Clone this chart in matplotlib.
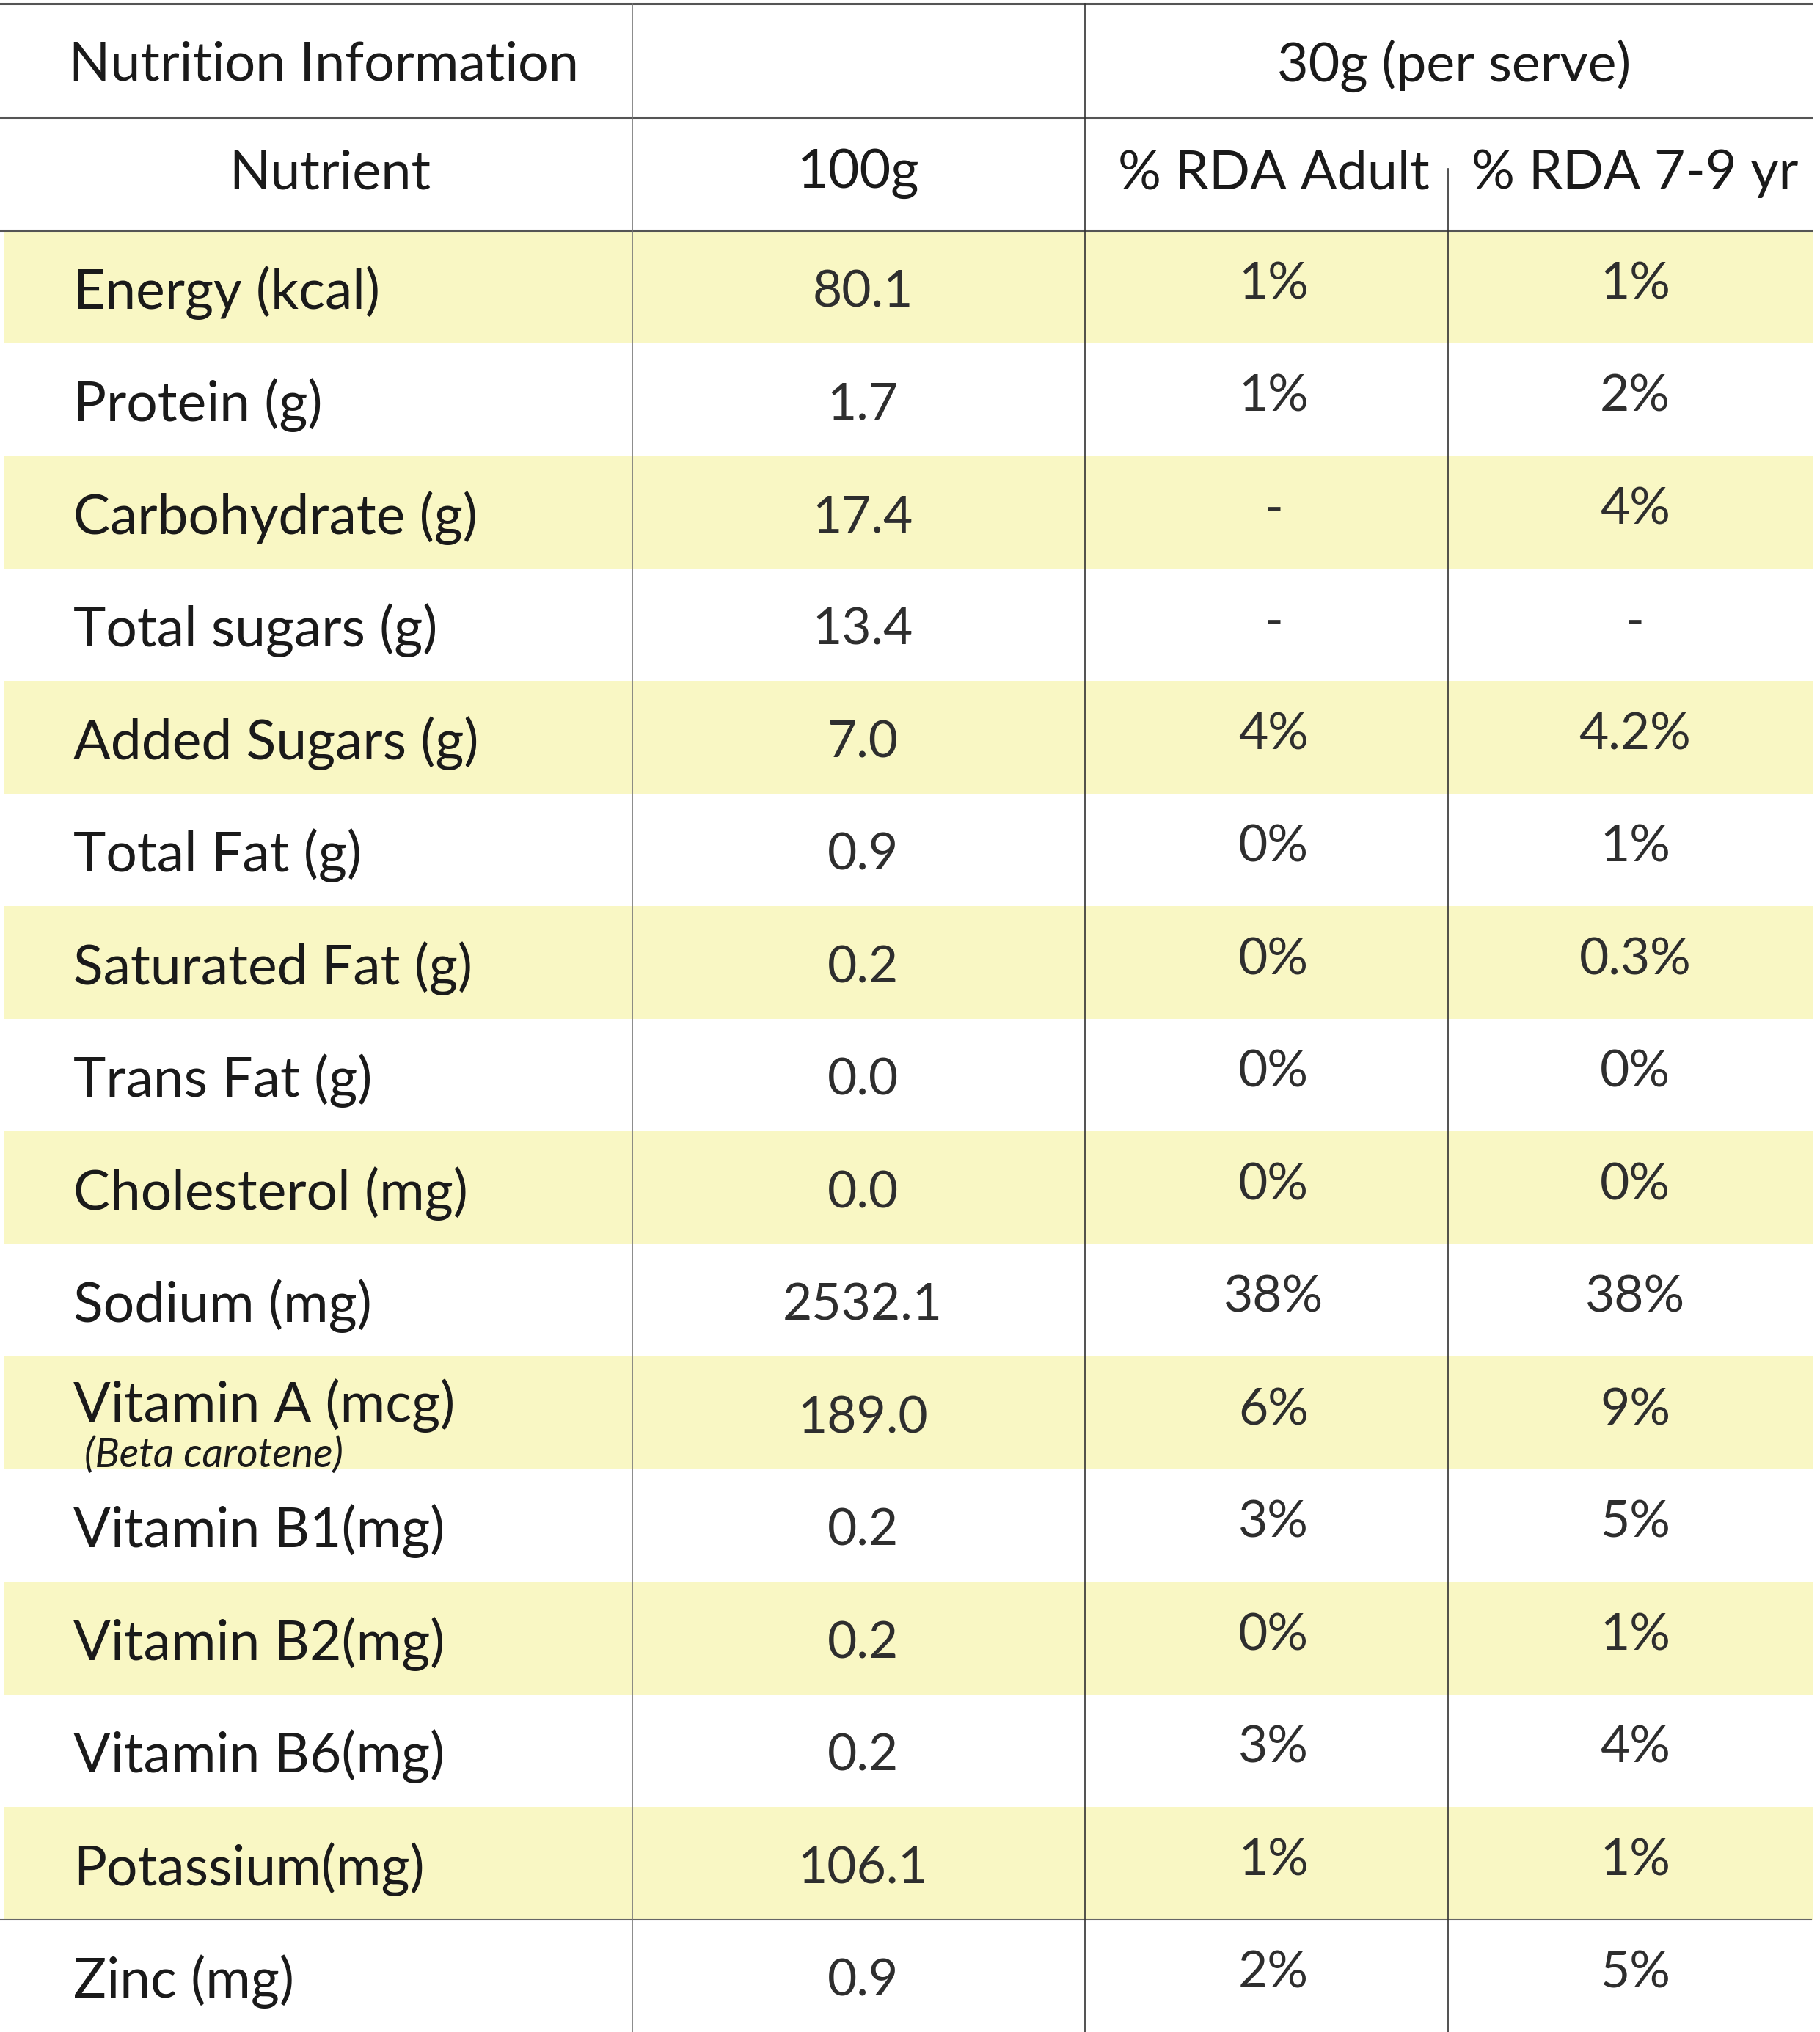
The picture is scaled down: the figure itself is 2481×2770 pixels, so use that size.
import matplotlib.pyplot as plt
from matplotlib.patches import Rectangle

plt.rcParams['font.family'] = ['Lato', 'DejaVu Sans']

# table content
nutrients = ["Energy (kcal)", "Protein (g)", "Carbohydrate (g)", "Total sugars (g)",
             "Added Sugars (g)", "Total Fat (g)", "Saturated Fat (g)", "Trans Fat (g)",
             "Cholesterol (mg)", "Sodium (mg)", "Vitamin A (mcg)", "Vitamin B1(mg)",
             "Vitamin B2(mg)", "Vitamin B6(mg)", "Potassium(mg)", "Zinc (mg)"]
per_100g = ["80.1", "1.7", "17.4", "13.4", "7.0", "0.9", "0.2", "0.0", "0.0",
            "2532.1", "189.0", "0.2", "0.2", "0.2", "106.1", "0.9"]
rda_adult = ["1%", "1%", "-", "-", "4%", "0%", "0%", "0%", "0%", "38%", "6%",
             "3%", "0%", "3%", "1%", "2%"]
rda_child = ["1%", "2%", "4%", "-", "4.2%", "1%", "0.3%", "0%", "0%", "38%", "9%",
             "5%", "1%", "4%", "1%", "5%"]
header_top = ["Nutrition Information", "", "30g (per serve)"]
header_cols = ["Nutrient", "100g", "% RDA Adult", "% RDA 7-9 yr"]
sub_notes = {"Vitamin A (mcg)": "(Beta carotene)"}

W, H = 2481, 2770
fig = plt.figure(figsize=(W / 100, H / 100), dpi=100)
ax = fig.add_axes([0, 0, 1, 1])
ax.set_xlim(0, W)
ax.set_ylim(H, 0)
ax.axis("off")

# layout (pixels)
col_edges = [0, 862, 1479, 1974, 2469]
top = 5
h1 = 160
h2 = 314
row_h = (H - h2) / len(nutrients)
yellow = "#f9f7c4"
fs_lab = 54
fs_head = 53
fs_val = 50
txt_dark = "#1a1a1a"
txt_val = "#2e2e2e"

# stripes
for i in range(len(nutrients)):
    y0 = h2 + i * row_h
    if i % 2 == 0:
        ax.add_patch(Rectangle((5, y0), 2467, row_h, color=yellow, lw=0, zorder=0))

# horizontal rules
for y in [top, h1, h2]:
    ax.plot([0, col_edges[-1]], [y, y], color="#555555", lw=2.2, zorder=2)
zinc_top = h2 + (len(nutrients) - 1) * row_h
ax.plot([0, col_edges[-1]], [zinc_top, zinc_top], color="#666666", lw=1.5, zorder=2)

# vertical rules
ax.plot([col_edges[1]] * 2, [top, H], color="#777777", lw=1.2, zorder=2)
ax.plot([col_edges[2]] * 2, [top, H], color="#333333", lw=1.2, zorder=2)
ax.plot([col_edges[3]] * 2, [230, H], color="#333333", lw=1.2, zorder=2)

# headers
ax.text((col_edges[0] + col_edges[1]) / 2 + 10, (top + h1) / 2 + 7, header_top[0],
        ha="center", va="center", fontsize=fs_head, color=txt_dark)
ax.text((col_edges[2] + col_edges[4]) / 2 + 8, (top + h1) / 2 + 7, header_top[2],
        ha="center", va="center", fontsize=fs_head, color=txt_dark)
hx = [450, 1170, 1736, 2229]
for x, t in zip(hx, header_cols):
    ax.text(x, (h1 + h2) / 2, t, ha="center", va="center", fontsize=fs_head, color=txt_dark)

# body
for i, name in enumerate(nutrients):
    yc = h2 + (i + 0.5) * row_h
    if name in sub_notes:
        ax.text(100, yc - 10, name, ha="left", va="center", fontsize=fs_lab, color=txt_dark)
        ax.text(115, yc + 58, sub_notes[name], ha="left", va="center",
                fontsize=40, style="italic", color=txt_dark)
    else:
        ax.text(100, yc + 8, name, ha="left", va="center", fontsize=fs_lab, color=txt_dark)
    ax.text(1176, yc + 8, per_100g[i], ha="center", va="center", fontsize=fs_val, color=txt_val)
    ax.text(1736, yc - 3, rda_adult[i], ha="center", va="center", fontsize=fs_val, color=txt_val)
    ax.text(2229, yc - 3, rda_child[i], ha="center", va="center", fontsize=fs_val, color=txt_val)

fig.savefig("out.png", dpi=100, facecolor="white")
